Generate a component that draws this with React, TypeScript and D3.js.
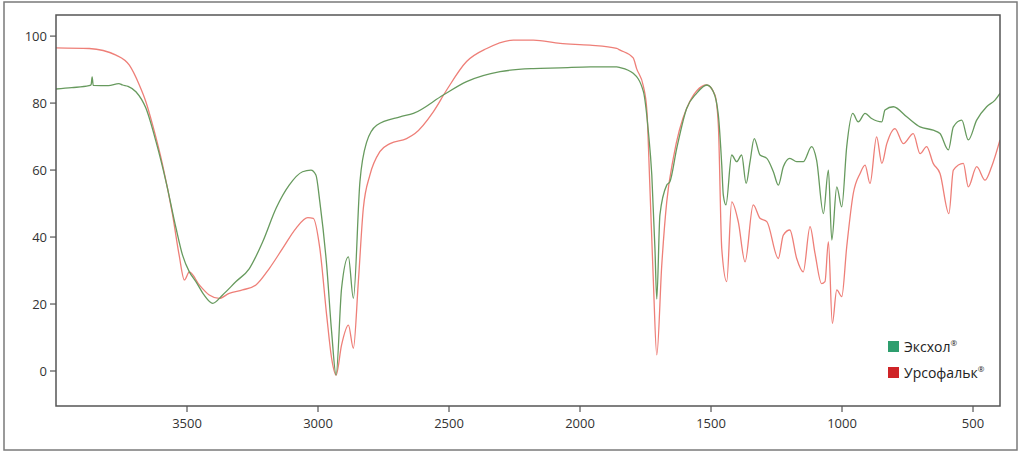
import React from "react";
import * as d3 from "d3";

const xTicks = [3500, 3000, 2500, 2000, 1500, 1000, 500];
const yTicks = [0, 20, 40, 60, 80, 100];

const seriesNames = ["Эксхол", "Урсофальк"];

const excholData: [number, number][] = [
  [4000, 84.2], [3940, 84.6], [3874, 85.2], [3866, 85.5], [3862, 87.8], [3858, 85.3], [3800, 85.2],
  [3760, 85.8], [3746, 85.4], [3725, 85.0], [3695, 83.4], [3657, 78.5], [3618, 68.4], [3580, 56.5],
  [3542, 42.7], [3517, 34.6], [3491, 29.6], [3466, 26.7], [3435, 22.7], [3402, 20.2], [3364, 22.7],
  [3313, 26.7], [3262, 30.6], [3211, 38.6], [3160, 48.6], [3110, 55.5], [3059, 59.5], [3027, 60],
  [3008, 58.5], [2993, 50.5], [2967, 31.6], [2948, 11.7], [2931, -1.2], [2910, 24.7], [2884, 34.1],
  [2865, 21.7], [2840, 56.5], [2814, 68.4], [2776, 73.4], [2687, 75.9], [2636, 76.9], [2522, 82.4],
  [2433, 86.4], [2305, 89.4], [2178, 90.3], [2076, 90.5], [1960, 90.8], [1860, 90.8], [1847, 90.6],
  [1797, 88.9], [1758, 83.4], [1739, 71.4], [1726, 58.5], [1714, 36.6], [1707, 21.5], [1695, 46.6],
  [1669, 55.5], [1657, 56.5], [1631, 66.4], [1593, 78.4], [1555, 82.9], [1516, 85.4], [1491, 83.4],
  [1472, 76.4], [1459, 61.5], [1453, 52.5], [1443, 49.6], [1421, 64.5], [1402, 62.5], [1383, 64.5],
  [1366, 56], [1351, 62.5], [1335, 69.4], [1313, 64.5], [1287, 63.5], [1262, 59.5], [1243, 55.5],
  [1224, 61], [1199, 63.5], [1173, 62.5], [1148, 62.5], [1116, 67], [1097, 63], [1071, 47],
  [1052, 60], [1039, 39.1], [1020, 55], [1001, 49], [982, 67], [959, 76.9], [938, 74.4],
  [912, 76.9], [887, 75.4], [848, 74.4], [836, 77.9], [804, 78.9], [753, 75.9], [702, 72.9],
  [652, 71.9], [626, 70.9], [594, 66], [575, 72.9], [543, 74.9], [518, 69], [486, 74.9],
  [448, 78.9], [416, 80.9], [397, 82.9],
];

const ursofalkData: [number, number][] = [
  [4000, 96.5], [3873, 96.3], [3771, 94.3], [3720, 91.3], [3682, 85.4], [3657, 80.4], [3631, 73.4],
  [3593, 61.5], [3555, 46.6], [3530, 34.6], [3510, 27.2], [3491, 29.6], [3453, 25.7], [3415, 22.7],
  [3377, 21.7], [3339, 23.2], [3288, 24.2], [3237, 25.7], [3186, 30.6], [3135, 36.6], [3084, 42.6],
  [3039, 45.8], [3018, 45.6], [2993, 36.6], [2967, 16.7], [2948, 3.8], [2931, -1.2], [2910, 7.8],
  [2884, 13.7], [2865, 6.8], [2846, 26.7], [2827, 48.6], [2802, 58.5], [2764, 65.5], [2725, 67.9],
  [2662, 69.4], [2630, 70.9], [2560, 77.4], [2509, 83.9], [2433, 92.4], [2356, 96.3], [2255, 98.8],
  [2178, 98.8], [2076, 97.8], [1962, 97.3], [1860, 96.3], [1847, 95.8], [1797, 93.5], [1784, 90.3],
  [1758, 85], [1745, 78], [1734, 56.5], [1720, 26.7], [1707, 4.8], [1688, 31.6], [1669, 50.5],
  [1644, 63.5], [1593, 78.4], [1516, 85.4], [1485, 82.4], [1472, 73.4], [1459, 36.6], [1440, 26.7],
  [1421, 50.5], [1396, 44.6], [1370, 32.6], [1339, 49.6], [1313, 45.6], [1287, 44.6], [1243, 33.6],
  [1224, 40.6], [1199, 42.1], [1173, 33.6], [1148, 29.6], [1122, 43.1], [1103, 35.1], [1078, 26.1],
  [1065, 26.7], [1052, 38.6], [1037, 14.2], [1020, 24.2], [1001, 22.2], [982, 37.1], [957, 53],
  [931, 59], [912, 61.5], [893, 56], [868, 69.9], [848, 62], [829, 67.9], [798, 72.4], [766, 67.9],
  [728, 70.9], [702, 64.9], [677, 67], [652, 62], [626, 59], [592, 47], [575, 60], [537, 62],
  [518, 55], [486, 61], [454, 57], [429, 61], [397, 69],
];

const W = 1024;
const H = 456;
const plot = { left: 56, top: 15, right: 1000, bottom: 406 };

export default function App() {
  const x = d3.scaleLinear().domain([4000, 397]).range([plot.left, plot.right]);
  const y = d3.scaleLinear().domain([-10.45, 106.3]).range([plot.bottom, plot.top]);
  const line = d3
    .line<[number, number]>()
    .x((d) => x(d[0]))
    .y((d) => y(d[1]))
    .curve(d3.curveMonotoneX);

  const font = "'Open Sans', 'Noto Sans', sans-serif";
  const axisColor = "#555";

  return (
    <svg
      width={W}
      height={H}
      style={{ position: "absolute", left: 0, top: 0, background: "#fff" }}
      fontFamily={font}
    >
      <rect x={4} y={2} width={1013} height={448} fill="#fff" stroke="#7a7a7a" strokeWidth={1.5} />
      <defs>
        <clipPath id="clip">
          <rect x={plot.left} y={plot.top} width={plot.right - plot.left} height={plot.bottom - plot.top} />
        </clipPath>
      </defs>
      <g clipPath="url(#clip)">
        <path d={line(ursofalkData) || ""} fill="none" stroke="#ee7f78" strokeWidth={1.3} />
        <path d={line(excholData) || ""} fill="none" stroke="#679a5e" strokeWidth={1.3} />
      </g>
      <rect
        x={plot.left}
        y={plot.top}
        width={plot.right - plot.left}
        height={plot.bottom - plot.top}
        fill="none"
        stroke={axisColor}
        strokeWidth={1.5}
      />
      {yTicks.map((t) => (
        <g key={"y" + t}>
          <line x1={plot.left - 6} x2={plot.left} y1={y(t)} y2={y(t)} stroke={axisColor} strokeWidth={1.2} />
          <text x={plot.left - 9} y={y(t)} dy="0.35em" textAnchor="end" fontSize={13} fill="#333">
            {t}
          </text>
        </g>
      ))}
      {xTicks.map((t) => (
        <g key={"x" + t}>
          <line x1={x(t)} x2={x(t)} y1={plot.bottom} y2={plot.bottom + 6} stroke={axisColor} strokeWidth={1.2} />
          <text x={x(t)} y={428} textAnchor="middle" fontSize={13} fill="#333">
            {t}
          </text>
        </g>
      ))}
      <g>
        <rect x={888} y={341} width={11} height={11} fill="#2e9e6e" />
        <text x={904} y={352} fontSize={14} fill="#222">
          {seriesNames[0]}
          <tspan fontSize={8} dy={-6}>®</tspan>
        </text>
        <rect x={888} y={367} width={11} height={11} fill="#cf2427" />
        <text x={904} y={378} fontSize={14} fill="#222">
          {seriesNames[1]}
          <tspan fontSize={8} dy={-6}>®</tspan>
        </text>
      </g>
    </svg>
  );
}
